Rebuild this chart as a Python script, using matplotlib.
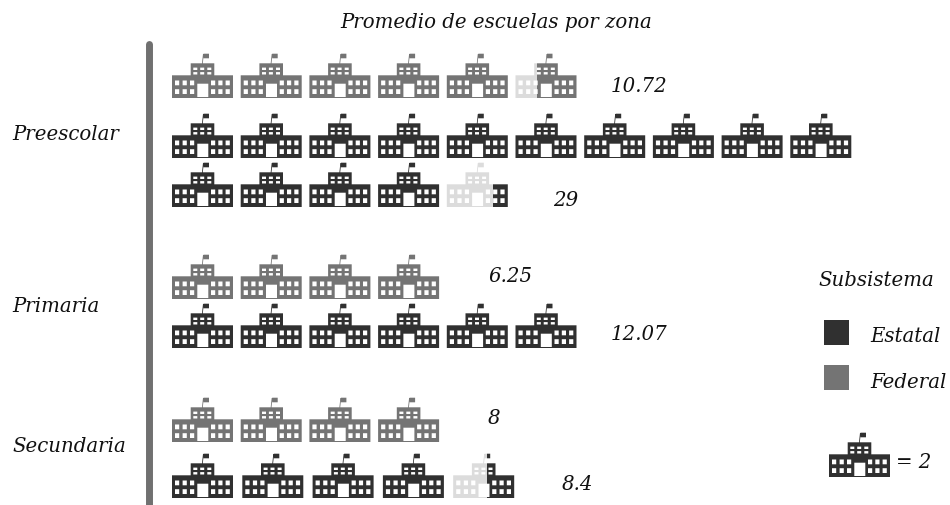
import matplotlib
matplotlib.use("Agg")
import matplotlib.pyplot as plt
from matplotlib.path import Path
from matplotlib.patches import PathPatch, Rectangle

title = "Promedio de escuelas por zona"
categories = ["Preescolar", "Primaria", "Secundaria"]
federal_values = [10.72, 6.25, 8]
estatal_values = [29, 12.07, 8.4]
federal_labels = ["10.72", "6.25", "8"]
estatal_labels = ["29", "12.07", "8.4"]
# icons as drawn in the picture (full icons, and light share of a last partial icon)
federal_full = [5, 4, 4]
federal_light = [0.36, None, None]
estatal_full = [14, 6, 4]
estatal_light = [0.75, None, 0.55]
legend_title = "Subsistema"
legend_names = ["Estatal", "Federal"]
unit_value = 2

DARK, MID, LIGHT = "#303030", "#747474", "#dcdcdc"
FONT = {"family": "DejaVu Serif", "style": "italic", "color": "#111111"}

fig = plt.figure(figsize=(9.5, 5.05), dpi=100)
ax = fig.add_axes([0, 0, 1, 1])
ax.set_xlim(0, 950)
ax.set_ylim(505, 0)
ax.axis("off")


def icon_path(x, b):
    """School glyph: x = left edge, b = bottom edge, in pixels; y is down."""
    V, C = [], []

    def add(x0, y0, x1, y1, hole=False):
        pts = [(x + x0, b - y0), (x + x1, b - y0), (x + x1, b - y1), (x + x0, b - y1), (x + x0, b - y0)]
        if hole:
            pts = pts[::-1]
        V.extend(pts)
        C.extend([Path.MOVETO, Path.LINETO, Path.LINETO, Path.LINETO, Path.CLOSEPOLY])

    add(0, 0, 61, 22.7)             # body
    add(18.7, 22.7, 42.3, 34.7)     # tower
    # slanted pole
    V.extend([(x + 30, b - 34.7), (x + 30.8, b - 34.7), (x + 31.8, b - 44), (x + 31, b - 44), (x + 30, b - 34.7)])
    C.extend([Path.MOVETO, Path.LINETO, Path.LINETO, Path.LINETO, Path.CLOSEPOLY])
    add(31.5, 39.7, 37, 44.3)       # flag
    add(25.3, 1, 36.3, 14.3, True)  # door
    for cx in (3, 10.6, 18, 39, 46.3, 53.6):
        for cy in (4, 12.7):
            add(cx, cy, cx + 4.2, cy + 4.8, True)
    for cx in (21.3, 28.2, 35.3):
        for cy in (23.5, 28):
            add(cx, cy, cx + 4, cy + 2.4, True)
    return Path(V, C)


def draw_icon(x, b, color, light=None):
    p = icon_path(x, b)
    if light is None:
        ax.add_patch(PathPatch(p, fc=color, ec="none"))
        return
    cut = x + 61 * light
    for col, x0, x1 in ((LIGHT, x - 1, cut), (color, cut, x + 62)):
        patch = PathPatch(p, fc=col, ec="none")
        ax.add_patch(patch)
        patch.set_clip_path(Rectangle((x0, b - 50), x1 - x0, 52, transform=ax.transData))


def draw_row(n_full, light, color, left, bottoms, pitch):
    slots = n_full + (0 if light is None else 1)
    for i in range(slots):
        row = i // 10
        lf = light if i == n_full else None
        draw_icon(left + (i % 10) * pitch, bottoms[row], color, lf)


# layout per category
fed_bottoms = [[98], [299], [442]]
est_bottoms = [[158, 207], [348], [498]]
est_pitch = [68.7, 68.7, 70.3]
fed_lab_pos = [(611, 87), (488, 277), (488, 419)]
est_lab_pos = [(553, 200), (611, 334), (562, 484)]
cat_y = [135, 307, 447]
FS = 14.2

for i, cat in enumerate(categories):
    ax.text(12, cat_y[i], cat, fontsize=FS, va="center", ha="left", **FONT)
    draw_row(federal_full[i], federal_light[i], MID, 172, fed_bottoms[i], 68.7)
    draw_row(estatal_full[i], estatal_light[i], DARK, 172, est_bottoms[i], est_pitch[i])
    ax.text(*fed_lab_pos[i], federal_labels[i], fontsize=FS, va="center", ha="left", **FONT)
    ax.text(*est_lab_pos[i], estatal_labels[i], fontsize=FS, va="center", ha="left", **FONT)

ax.text(496, 23, title, fontsize=FS, va="center", ha="center", **FONT)

# vertical axis line
ax.plot([148.5, 148.5], [44, 520], color="#707070", lw=5, solid_capstyle="round")

# legend
ax.text(818, 281, legend_title, fontsize=FS, va="center", ha="left", **FONT)
for name, col, y in zip(legend_names, (DARK, MID), (320, 365)):
    ax.add_patch(Rectangle((824, y), 25, 25, fc=col, ec="none"))
    ax.text(870, y + 17, name, fontsize=FS, va="center", ha="left", **FONT)
draw_icon(829, 477, DARK)
ax.text(896, 462, f"= {unit_value}", fontsize=FS, va="center", ha="left", **FONT)

fig.savefig("out.png", dpi=100)
